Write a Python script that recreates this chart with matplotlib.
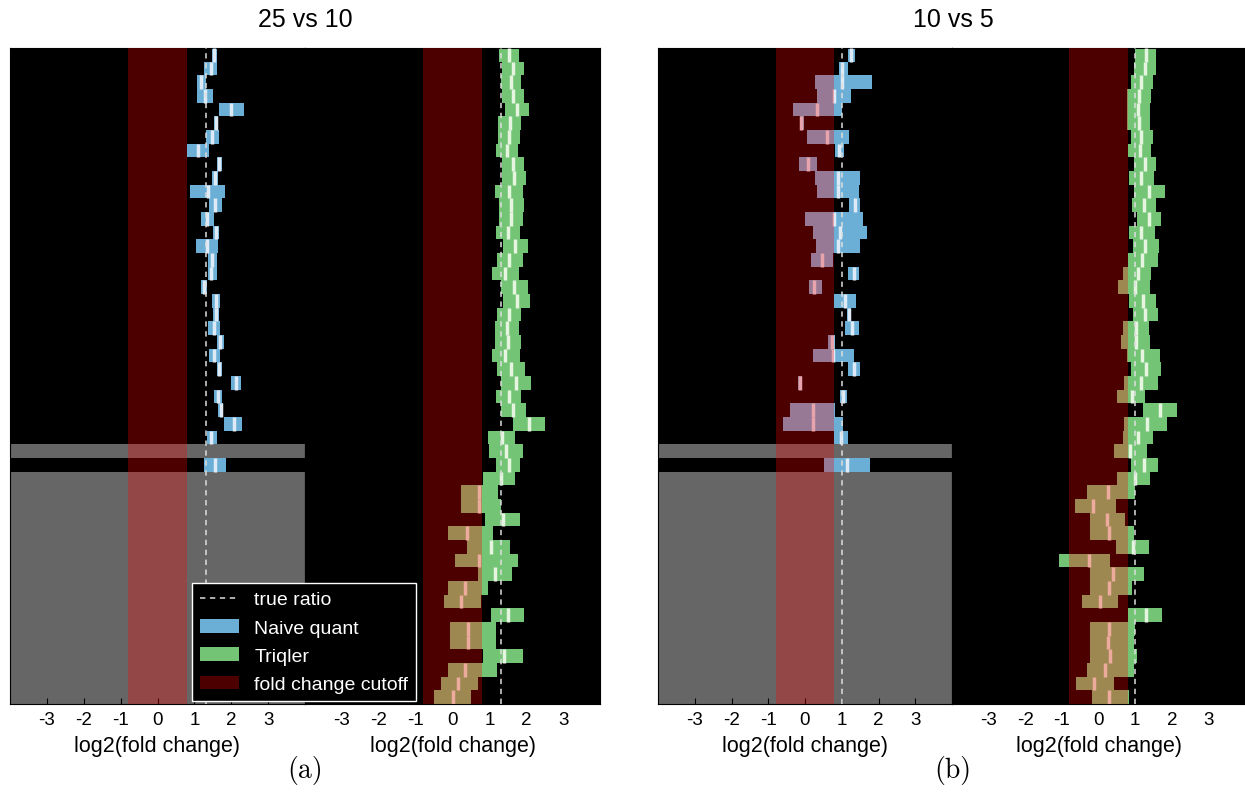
import numpy as np
import matplotlib.pyplot as plt
from matplotlib.patches import Patch
from matplotlib.lines import Line2D

plt.rcParams['font.family'] = ['Liberation Sans', 'DejaVu Sans']
plt.rcParams['axes.unicode_minus'] = False

nan = np.nan
N_ROWS = 48

# panel (a): 25 vs 10, true ratio log2(2.5)
ratio_a = np.log2(25 / 10)
naive_a_lo = [1.48, 1.26, 1.07, 1.07, 1.67, 1.54, 1.32, 0.80, 1.62, 1.48, 0.88, 1.40, 1.18, 1.51, 1.05, 1.37,
              1.37, 1.18, 1.48, 1.51, 1.37, 1.62, 1.40, 1.62, 2.00, 1.54, 1.65, 1.81, 1.35, nan, 1.27]
naive_a_med = [1.53, 1.45, 1.19, 1.28, 2.00, 1.59, 1.47, 1.11, 1.68, 1.56, 1.36, 1.56, 1.35, 1.59, 1.35, 1.47,
               1.44, 1.25, 1.59, 1.59, 1.53, 1.70, 1.53, 1.68, 2.12, 1.64, 1.72, 2.08, 1.45, nan, 1.56]
naive_a_hi = [1.61, 1.61, 1.32, 1.51, 2.35, 1.65, 1.67, 1.40, 1.75, 1.65, 1.84, 1.75, 1.54, 1.67, 1.65, 1.62,
              1.62, 1.35, 1.70, 1.67, 1.70, 1.81, 1.70, 1.75, 2.27, 1.75, 1.78, 2.30, 1.62, nan, 1.86]

triqler_a_lo = [1.27, 1.35, 1.32, 1.35, 1.43, 1.24, 1.24, 1.19, 1.35, 1.35, 1.14, 1.27, 1.27, 1.19, 1.38, 1.22,
                1.08, 1.32, 1.38, 1.22, 1.14, 1.14, 1.08, 1.22, 1.32, 1.19, 1.32, 1.65, 0.97, 1.00, 1.19, 0.84,
                0.22, 0.22, 0.89, -0.11, 0.38, 0.08, 0.68, -0.11, -0.22, 1.05, -0.08, -0.08, 0.82, -0.11, -0.32, -0.49]
triqler_a_med = [1.54, 1.65, 1.59, 1.65, 1.76, 1.57, 1.54, 1.48, 1.65, 1.68, 1.54, 1.59, 1.59, 1.51, 1.70, 1.54,
                 1.43, 1.68, 1.76, 1.54, 1.49, 1.51, 1.43, 1.59, 1.73, 1.54, 1.65, 2.08, 1.33, 1.46, 1.54, 1.31,
                 0.73, 0.73, 1.38, 0.40, 1.05, 0.73, 1.16, 0.35, 0.22, 1.51, 0.43, 0.43, 1.41, 0.35, 0.16, 0.00]
triqler_a_hi = [1.81, 1.95, 1.86, 1.95, 2.08, 1.86, 1.84, 1.78, 1.95, 2.00, 1.92, 1.95, 1.92, 1.84, 2.05, 1.92,
                1.81, 2.05, 2.11, 1.86, 1.81, 1.86, 1.84, 1.97, 2.14, 1.86, 2.00, 2.51, 1.70, 1.92, 1.84, 1.70,
                1.24, 1.32, 1.84, 1.11, 1.57, 1.78, 1.62, 0.97, 0.78, 1.95, 1.19, 1.19, 1.92, 1.22, 0.68, 0.51]

# panel (b): 10 vs 5, true ratio log2(2)
ratio_b = np.log2(10 / 5)
naive_b_lo = [1.16, 0.92, 0.27, 0.32, -0.32, -0.14, 0.05, 0.81, -0.16, 0.27, 0.32, 1.19, 0.00, 0.22, 0.30, 0.16,
              1.16, 0.11, 0.78, 1.14, 1.08, 0.62, 0.22, 1.16, -0.19, 0.95, -0.41, -0.59, 0.78, nan, 0.51]
naive_b_med = [1.24, 1.00, 1.01, 0.78, 0.33, -0.10, 0.59, 0.92, 0.08, 0.89, 0.89, 1.35, 0.79, 0.95, 0.89, 0.46,
               1.32, 0.25, 1.08, 1.19, 1.27, 0.73, 0.76, 1.32, -0.14, 1.03, 0.22, 0.23, 0.97, nan, 1.14]
naive_b_hi = [1.35, 1.16, 1.81, 1.24, 1.00, -0.03, 1.19, 1.05, 0.32, 1.51, 1.46, 1.51, 1.59, 1.68, 1.51, 0.76,
              1.46, 0.46, 1.38, 1.24, 1.46, 0.81, 1.32, 1.51, -0.08, 1.14, 0.81, 1.03, 1.16, nan, 1.76]

triqler_b_lo = [1.00, 0.97, 0.89, 0.78, 0.78, 0.78, 0.89, 0.81, 0.97, 0.84, 0.97, 0.92, 1.05, 0.84, 0.95, 0.81,
                0.68, 0.54, 0.84, 0.95, 0.68, 0.62, 0.78, 0.89, 0.70, 0.51, 1.22, 0.70, 0.68, 0.41, 0.89, 0.51,
                -0.32, -0.65, -0.24, -0.22, 0.49, -1.08, -0.22, -0.22, -0.46, 0.81, -0.22, -0.24, -0.22, -0.32, -0.62, -0.19]
triqler_b_med = [1.30, 1.27, 1.16, 1.11, 1.08, 1.11, 1.16, 1.14, 1.27, 1.16, 1.38, 1.24, 1.38, 1.16, 1.27, 1.19,
                 1.08, 1.00, 1.22, 1.27, 1.03, 1.03, 1.19, 1.30, 1.16, 0.92, 1.68, 1.32, 1.08, 0.86, 1.24, 1.00,
                 0.27, -0.14, 0.22, 0.30, 0.95, -0.27, 0.39, 0.30, 0.03, 1.30, 0.30, 0.27, 0.32, 0.19, -0.11, 0.30]
triqler_b_hi = [1.57, 1.57, 1.49, 1.43, 1.41, 1.41, 1.49, 1.43, 1.57, 1.51, 1.81, 1.57, 1.70, 1.54, 1.65, 1.62,
                1.43, 1.41, 1.57, 1.62, 1.38, 1.41, 1.68, 1.70, 1.62, 1.27, 2.14, 1.86, 1.49, 1.32, 1.62, 1.41,
                1.00, 0.49, 0.71, 0.97, 1.38, 0.32, 1.24, 0.92, 0.54, 1.73, 1.00, 0.97, 1.05, 0.97, 0.41, 0.84]

CUTOFF = 0.8
BLUE, BLUE_MED = '#6baed6', '#deebf7'
GREEN, GREEN_MED = '#74c476', '#e5f5e0'
GRAY = '#666666'
LINE = '#dddddd'

W, H = 1245, 812
fig = plt.figure(figsize=(W / 100, H / 100), dpi=100)


def make_ax(left, width):
    ax = fig.add_axes([left / W, 107 / H, width / W, 656 / H])
    ax.set_facecolor('black')
    ax.set_xlim(-4, 4)
    ax.set_ylim(N_ROWS - 0.5, -0.5)
    ax.set_xticks(range(-3, 4))
    ax.set_yticks([])
    ax.tick_params(axis='x', direction='in', top=True, length=4, labelsize=13.5, pad=5)
    ax.set_xlabel('log2(fold change)', fontsize=15.5, labelpad=5)
    return ax


def pad(vals):
    v = np.full(N_ROWS, np.nan)
    v[:len(vals)] = vals
    return v


def draw(ax, lo, med, hi, color, light, ratio):
    lo, med, hi = pad(lo), pad(med), pad(hi)
    rows = np.arange(N_ROWS)
    ok = ~np.isnan(lo)
    # rows without a quantification get greyed out
    for r in rows[~ok]:
        ax.axhspan(r - 0.5, r + 0.5, color=GRAY, lw=0, zorder=1)
    ax.barh(rows[ok], hi[ok] - lo[ok], left=lo[ok], height=1.0, color=color, lw=0, zorder=2)
    ax.vlines(med[ok], rows[ok] - 0.5, rows[ok] + 0.5, color=light, lw=2.5, zorder=3)
    ax.axvline(ratio, color=LINE, ls=(0, (3.5, 3)), lw=1.1, zorder=4)
    ax.axvspan(-CUTOFF, CUTOFF, color='red', alpha=0.3, lw=0, zorder=5)


ax1 = make_ax(10, 295)
ax2 = make_ax(305, 295)
ax3 = make_ax(658, 294)
ax4 = make_ax(952, 293)

draw(ax1, naive_a_lo, naive_a_med, naive_a_hi, BLUE, BLUE_MED, ratio_a)
draw(ax2, triqler_a_lo, triqler_a_med, triqler_a_hi, GREEN, GREEN_MED, ratio_a)
draw(ax3, naive_b_lo, naive_b_med, naive_b_hi, BLUE, BLUE_MED, ratio_b)
draw(ax4, triqler_b_lo, triqler_b_med, triqler_b_hi, GREEN, GREEN_MED, ratio_b)

fig.text(305 / W, 1 - 20 / H, '25 vs 10', ha='center', va='center', fontsize=18)
fig.text(953 / W, 1 - 20 / H, '10 vs 5', ha='center', va='center', fontsize=18)
fig.text(305 / W, 1 - 771 / H, '(a)', ha='center', va='center', fontsize=20, fontfamily='cmr10')
fig.text(953 / W, 1 - 771 / H, '(b)', ha='center', va='center', fontsize=20, fontfamily='cmr10')

handles = [Line2D([], [], color=LINE, ls=(0, (3.5, 3)), lw=1.1),
           Patch(facecolor=BLUE, edgecolor='none'),
           Patch(facecolor=GREEN, edgecolor='none'),
           Patch(facecolor='red', alpha=0.3, edgecolor='none')]
labels = ['true ratio', 'Naive quant', 'Triqler', 'fold change cutoff']
leg = fig.legend(handles, labels, loc='upper left', bbox_to_anchor=(192 / W, 1 - 584 / H),
                 borderaxespad=0, facecolor='black', edgecolor='white', framealpha=1, fancybox=False,
                 fontsize=14, labelcolor='white', labelspacing=0.55, borderpad=0.4)
leg.get_frame().set_linewidth(1.0)

fig.savefig('out.png', dpi=100)
